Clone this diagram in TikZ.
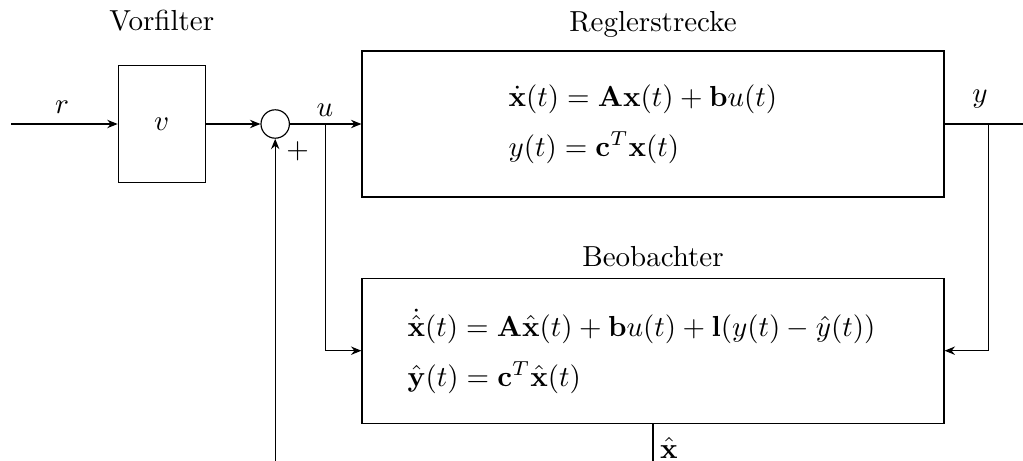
\documentclass[tikz,border=0pt]{standalone}
\usepackage{amsmath}
\usetikzlibrary{arrows.meta}
\tikzset{
  blk/.style={draw, inner sep=0pt, rectangle},
  sumnode/.style={draw, circle, inner sep=0pt, minimum size=9.8pt},
  lbl/.style={inner sep=0pt},
  ttl/.style={anchor=base, inner sep=0pt},
  eqs/.style={anchor=west, align=left, inner sep=0pt},
  conn/.style={-{Stealth[length=3.6pt,width=2.9pt,inset=1.2pt]}},
  plain/.style={}
}
\begin{document}
\begin{tikzpicture}[x=0.345pt,y=-0.345pt]
\useasboundingbox (0,0) rectangle (1023,461);
\clip (0,0) rectangle (1023,461);
% blocks
\node[blk, minimum width=30pt, minimum height=40.4pt] (vf) at (161.7,124) {$v$};
\node[sumnode] (s) at (275.2,124) {};
\node[blk, minimum width=200.8pt, minimum height=50.4pt] (rs) at (653,124) {};
\node[blk, minimum width=200.8pt, minimum height=50pt] (bo) at (653,350.7) {};
% titles
\node[ttl] (tvf) at (161.7,31) {Vorfilter};
\node[ttl] (trs) at (653,31.7) {Reglerstrecke};
\node[ttl] (tbo) at (653,267) {Beobachter};
% equations
\node[eqs] (eqr) at (508,124) {$\dot{\mathbf{x}}(t) = \mathbf{A}\mathbf{x}(t) + \mathbf{b}u(t)$\\[5.2pt]$y(t) = \mathbf{c}^T\mathbf{x}(t)$};
\node[eqs] (eqb) at (407,351) {$\dot{\hat{\mathbf{x}}}(t) = \mathbf{A}\hat{\mathbf{x}}(t) + \mathbf{b}u(t) + \mathbf{l}(y(t) - \hat{y}(t))$\\[5.2pt]$\hat{\mathbf{y}}(t) = \mathbf{c}^T\hat{\mathbf{x}}(t)$};
% labels
\node[lbl] (lr) at (62,107) {$r$};
\node[lbl] (lu) at (325,110) {$u$};
\node[lbl] (ly) at (980,99) {$y$};
\node[lbl] (lp) at (297.7,151) {$+$};
\node[lbl] (lx) at (669,448) {$\hat{\mathbf{x}}$};
% coordinates
\coordinate (in) at (11,124);
\coordinate (out) at (1035,124);
\coordinate (bu) at (325.7,124);
\coordinate (by) at (988.3,124);
\coordinate (fb) at (275.2,480);
\coordinate (xo) at (653,480);
% connectors
\draw[conn] (in) -- (vf.west);
\draw[conn] (vf.east) -- (s.west);
\draw[conn] (s.east) -- (rs.west);
\draw[conn] (bu) |- (bo.west);
\draw[conn] (rs.east) -- (out);
\draw[conn] (by) |- (bo.east);
\draw[conn] (fb) -- (s.south);
\draw[plain] (bo.south) -- (xo);
\end{tikzpicture}
\end{document}
